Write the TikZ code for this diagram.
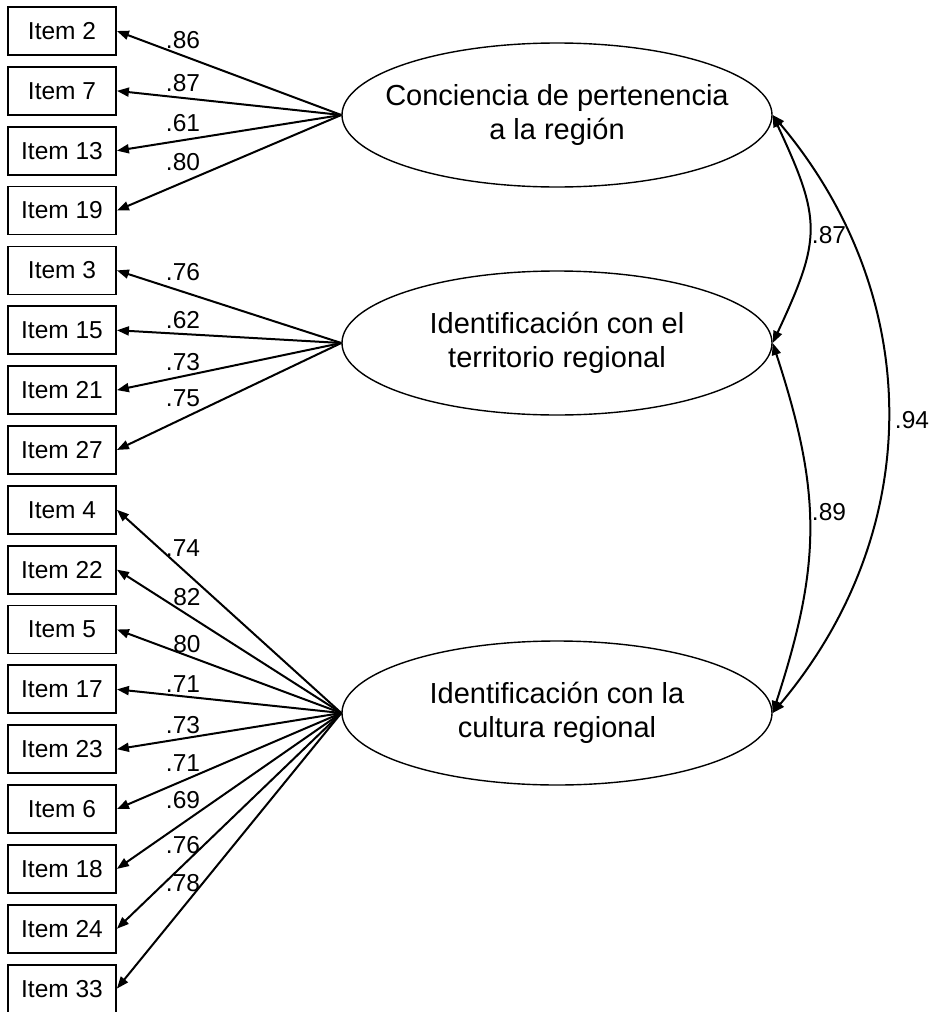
\documentclass[tikz,border=0pt]{standalone}
\usepackage{fontspec}
\setmainfont{Liberation Sans}
\usetikzlibrary{arrows.meta,shapes.geometric}
\begin{document}
\begin{tikzpicture}[x=1pt,y=-1pt,
 item/.style={draw,line width=1.8pt,minimum width=108pt,minimum height=48pt,inner sep=0pt,font=\fontsize{24.5}{28}\selectfont},
 factor/.style={draw,ellipse,line width=1.4pt,minimum width=430pt,minimum height=144pt,inner xsep=-40pt,inner ysep=0pt,align=center,font=\fontsize{29}{34}\selectfont},
 load/.style={line width=2pt,-{Triangle[length=12pt,width=9pt]}},
 cov/.style={line width=2pt,{Triangle[length=12pt,width=9pt]}-{Triangle[length=12pt,width=9pt]}},
 coef/.style={font=\fontsize{24.5}{28}\selectfont,inner sep=0pt}]
\useasboundingbox (0,0) rectangle (933,1012);
\foreach \n [count=\i from 0] in {2,7,13,19,3,15,21,27,4,22,5,17,23,6,18,24,33}
  \node[item] (i\n) at (62,{31+59.85*\i}) {Item \n};
\node[factor] (f1) at (557,115) {Conciencia de pertenencia\\a la región};
\node[factor] (f2) at (557,343) {Identificación con el\\territorio regional};
\node[factor] (f3) at (557,713) {Identificación con la\\cultura regional};
\foreach \n in {2,7,13,19} \draw[load] (f1.west) -- (i\n.east);
\foreach \n in {3,15,21,27} \draw[load] (f2.west) -- (i\n.east);
\foreach \n in {4,22,5,17,23,6,18,24,33} \draw[load] (f3.west) -- (i\n.east);
\node[coef] (l1) at (183,40) {.86};
\node[coef] (l2) at (183,83) {.87};
\node[coef] (l3) at (183,123) {.61};
\node[coef] (l4) at (183,162) {.80};
\node[coef] (l5) at (183,272) {.76};
\node[coef] (l6) at (183,320) {.62};
\node[coef] (l7) at (183,362) {.73};
\node[coef] (l8) at (183,398) {.75};
\node[coef] (l9) at (183,548) {.74};
\node[coef] (l10) at (187,597) {82};
\node[coef] (l11) at (187,644) {80};
\node[coef] (l12) at (183,684) {.71};
\node[coef] (l13) at (183,725) {.73};
\node[coef] (l14) at (183,763) {.71};
\node[coef] (l15) at (183,800) {.69};
\node[coef] (l16) at (183,845) {.76};
\node[coef] (l17) at (183,883) {.78};
\draw[cov] (f1.east) .. controls +(49,105) and +(49,-105) .. (f2.east);
\draw[cov] (f2.east) .. controls +(49,150) and +(49,-150) .. (f3.east);
\draw[cov] (f1.east) .. controls +(153,182) and +(153,-182) .. (f3.east);
\node[coef] (c12) at (829,235) {.87};
\node[coef] (c23) at (829,512) {.89};
\node[coef] (c13) at (912,420) {.94};
\end{tikzpicture}
\end{document}
